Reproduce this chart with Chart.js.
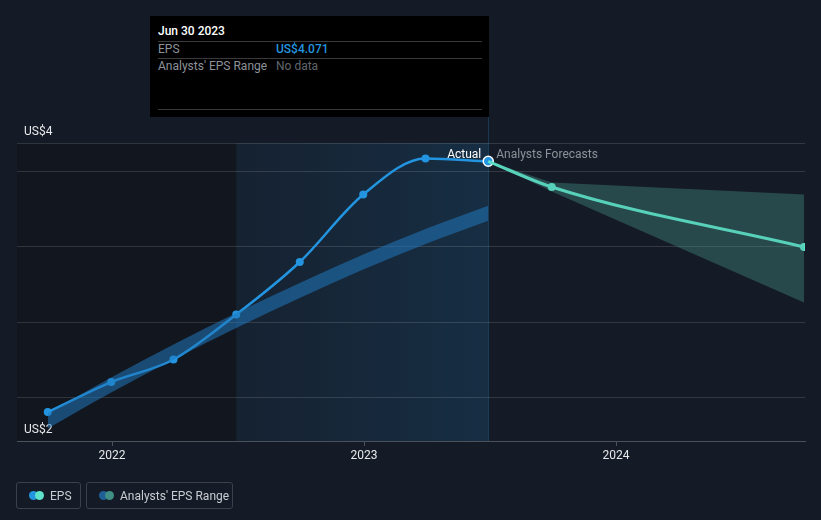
<!DOCTYPE html>
<html>
<head>
<meta charset="utf-8">
<script src="https://cdn.jsdelivr.net/npm/chart.js@4.4.0/dist/chart.umd.min.js"></script>
<style>
  body { margin: 0; background: #151b26; font-family: Roboto, sans-serif; }
  #wrap { position: relative; width: 821px; height: 520px; }
  #tip { position: absolute; left: 150px; top: 16px; width: 339px; height: 101px; background: #000; font-size: 12px; }
  #tip .row { position: absolute; left: 8px; right: 7px; height: 17px; line-height: 17px; }
  #tip .sep { position: absolute; left: 8px; right: 7px; height: 1px; background: #3a3a3a; }
  #tip .val { position: absolute; left: 118px; }
  .legend { position: absolute; top: 482px; height: 27px; border: 1px solid #3b404a; border-radius: 3px; font-size: 12px; color: #c9ccd2; line-height: 26px; box-sizing: border-box; }
  .legend .dot { position: absolute; top: 8px; width: 9px; height: 9px; border-radius: 50%; }
  .legend span.t { position: absolute; }
</style>
</head>
<body>
<div id="wrap">
  <canvas id="myChart" width="821" height="520"></canvas>
  <div id="tip">
    <div class="row" style="top:7px;color:#fff;font-weight:500">Jun 30 2023</div>
    <div class="sep" style="top:25px"></div>
    <div class="row" style="top:25px;color:#8d9299">EPS<span class="val" style="color:#2394df;font-weight:500">US$4.071</span></div>
    <div class="sep" style="top:42px"></div>
    <div class="row" style="top:42px;color:#8d9299">Analysts' EPS Range<span class="val" style="color:#61666e">No data</span></div>
    <div class="sep" style="top:93px"></div>
  </div>
  <div class="legend" style="left:16px;width:65px">
    <div class="dot" style="left:12px;background:#2394df"></div>
    <div class="dot" style="left:18px;background:#5de3c9"></div>
    <span class="t" style="left:33px">EPS</span>
  </div>
  <div class="legend" style="left:86px;width:147px">
    <div class="dot" style="left:12px;background:#1f5f95"></div>
    <div class="dot" style="left:18px;background:#3f8f86"></div>
    <span class="t" style="left:33px">Analysts' EPS Range</span>
  </div>
</div>
<script>
// quarter-end dates as decimal years (Sep 30, Dec 31, Mar 31, Jun 30)
var actualDates = [2021.745, 2021.997, 2022.244, 2022.493, 2022.745, 2022.997, 2023.244, 2023.493];
var actualEps = [2.40, 2.60, 2.75, 3.05, 3.40, 3.85, 4.09, 4.071];
var pastRangeLow = [2.29, 2.53, 2.75, 2.96, 3.16, 3.35, 3.52, 3.675];
var pastRangeHigh = [2.39, 2.63, 2.85, 3.06, 3.26, 3.45, 3.62, 3.775];

var forecastDates = [2023.493, 2023.745, 2024.746];
var forecastEps = [4.071, 3.90, 3.50];
var forecastLow = [4.071, 3.87, 3.13];
var forecastHigh = [4.071, 3.93, 3.85];

var yearTicks = [2022, 2023, 2024];
var yGrid = [2.5, 3.0, 3.5, 4.0];
var yMin = 2.207, yMax = 4.193;
var yTickLabels = ["US$2", "US$4"];
var xMin = 2021.623, xMax = 2024.75;
var lastYearStart = 2022.493, actualEnd = 2023.493;

function pts(xs, ys) {
  return xs.map(function (x, i) { return { x: x, y: ys[i] }; });
}

var bgPlugin = {
  id: "bg",
  beforeDraw: function (chart) {
    var ctx = chart.ctx, a = chart.chartArea, xs = chart.scales.x;
    var x1 = xs.getPixelForValue(lastYearStart), x2 = xs.getPixelForValue(actualEnd);
    ctx.save();
    ctx.fillStyle = "#12161e";
    ctx.fillRect(a.left, a.top, x1 - a.left, a.bottom - a.top);
    var g = ctx.createLinearGradient(x1, 0, x2, 0);
    g.addColorStop(0, "rgba(35,148,223,0.06)");
    g.addColorStop(1, "rgba(35,148,223,0.16)");
    ctx.fillStyle = g;
    ctx.fillRect(x1, a.top, x2 - x1, a.bottom - a.top);
    ctx.strokeStyle = "rgba(35,148,223,0.25)";
    ctx.lineWidth = 1;
    ctx.beginPath();
    ctx.moveTo(Math.round(x2) + 0.5, 117);
    ctx.lineTo(Math.round(x2) + 0.5, a.bottom);
    ctx.stroke();
    ctx.restore();
  },
  afterDraw: function (chart) {
    var ctx = chart.ctx, a = chart.chartArea, xs = chart.scales.x;
    var x2 = xs.getPixelForValue(actualEnd);
    ctx.save();
    ctx.font = "12px Roboto";
    ctx.textBaseline = "middle";
    ctx.textAlign = "right";
    ctx.fillStyle = "#ffffff";
    ctx.fillText("Actual", x2 - 7, a.top + 12);
    ctx.textAlign = "left";
    ctx.fillStyle = "#8d9299";
    ctx.fillText("Analysts Forecasts", x2 + 8, a.top + 12);
    ctx.restore();
  }
};

Chart.defaults.font.family = "Roboto";

new Chart("myChart", {
  type: "line",
  data: {
    datasets: [
      {
        data: pts(actualDates, pastRangeHigh),
        borderWidth: 0,
        pointRadius: 0,
        fill: "+1",
        backgroundColor: "rgba(33,120,190,0.55)",
        cubicInterpolationMode: "monotone",
      },
      {
        data: pts(actualDates, pastRangeLow),
        borderWidth: 0,
        pointRadius: 0,
        fill: false,
        cubicInterpolationMode: "monotone",
      },
      {
        data: pts(forecastDates, forecastHigh),
        borderWidth: 0,
        pointRadius: 0,
        fill: "+1",
        backgroundColor: "rgba(78,170,155,0.32)",
      },
      {
        data: pts(forecastDates, forecastLow),
        borderWidth: 0,
        pointRadius: 0,
        fill: false,
      },
      {
        data: pts(forecastDates, forecastEps),
        borderColor: "#5de3c9",
        borderWidth: 3,
        pointRadius: [0, 4, 4],
        pointBackgroundColor: "#5de3c9",
        pointBorderWidth: 0,
        fill: false,
        cubicInterpolationMode: "monotone",
      },
      {
        data: pts(actualDates, actualEps),
        borderColor: "#2394df",
        borderWidth: 2.5,
        pointRadius: [4, 4, 4, 4, 4, 4, 4, 5],
        pointBackgroundColor: "#2394df",
        pointBorderColor: ["#2394df", "#2394df", "#2394df", "#2394df", "#2394df", "#2394df", "#2394df", "#ffffff"],
        pointBorderWidth: [0, 0, 0, 0, 0, 0, 0, 1.5],
        fill: false,
        cubicInterpolationMode: "monotone",
      },
    ],
  },
  options: {
    responsive: false,
    animation: false,
    events: [],
    layout: { padding: { left: 17, right: 16, top: 143, bottom: 0 } },
    scales: {
      x: {
        type: "linear",
        min: xMin,
        max: xMax,
        afterBuildTicks: function (s) {
          s.ticks = yearTicks.map(function (v) { return { value: v }; });
        },
        afterFit: function (s) { s.height = 79; },
        border: { color: "#4b515b" },
        grid: { drawOnChartArea: false, color: "#4b515b", tickLength: 5 },
        ticks: {
          color: "#e6e8eb",
          padding: 3,
          font: { size: 12 },
          maxRotation: 0,
          autoSkip: false,
          callback: function (v) { return String(v); },
        },
      },
      y: {
        type: "linear",
        min: yMin,
        max: yMax,
        afterBuildTicks: function (s) {
          s.ticks = [yMin].concat(yGrid, [yMax]).map(function (v) { return { value: v }; });
        },
        afterFit: function (s) { s.width = 0; },
        border: { display: false },
        grid: { color: "rgba(255,255,255,0.13)", drawTicks: false },
        ticks: {
          mirror: true,
          padding: 7,
          labelOffset: -11,
          color: "#e6e8eb",
          font: { size: 12 },
          callback: function (v) {
            if (v === yMin) return yTickLabels[0];
            if (v === yMax) return yTickLabels[1];
            return "";
          },
        },
      },
    },
    plugins: {
      legend: { display: false },
      tooltip: { enabled: false },
    },
  },
  plugins: [bgPlugin],
});
</script>
</body>
</html>
